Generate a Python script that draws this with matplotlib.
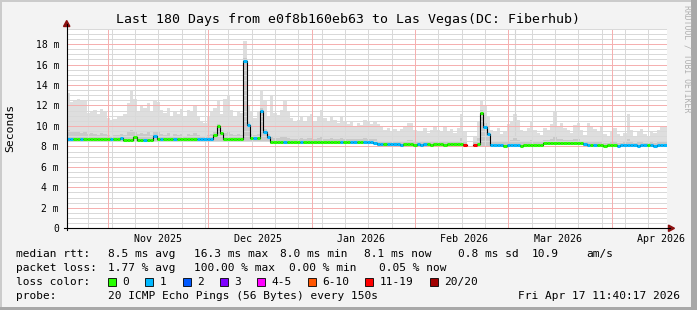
import datetime as dt
import numpy as np
import matplotlib
matplotlib.use('Agg')
import matplotlib.pyplot as plt
from matplotlib.lines import Line2D
from matplotlib.patches import Polygon, Rectangle

# ---- data (one value per day, ms) ----
start = dt.datetime(2025, 10, 19, 11, 40, 17)
n_days = 180

median = [
    8.72, 8.70, 8.72, 8.70, 8.70, 8.72, 8.70, 8.70, 8.68, 8.70,
    8.70, 8.72, 8.70, 8.70, 8.68, 8.70, 8.85, 8.65, 8.63, 8.62,
    8.95, 8.60, 8.60, 8.60, 8.62, 8.60, 9.05, 8.70, 8.70, 8.70,
    8.70, 8.72, 8.70, 8.70, 8.70, 8.70, 8.68, 8.70, 8.70, 8.72,
    8.70, 8.70, 8.70, 8.75, 9.10, 10.0, 9.30, 8.75, 8.75, 8.75,
    8.75, 8.75, 8.75, 16.3, 10.1, 8.85, 8.85, 8.85, 11.5, 9.40,
    8.95, 8.42, 8.40, 8.40, 8.40, 8.42, 8.40, 8.40, 8.40, 8.42,
    8.40, 8.40, 8.42, 8.40, 8.40, 8.40, 8.42, 8.40, 8.40, 8.40,
    8.40, 8.42, 8.40, 8.40, 8.40, 8.42, 8.45, 8.42, 8.40, 8.45,
    8.42, 8.40, 8.35, 8.22, 8.20, 8.20, 8.22, 8.20, 8.20, 8.20,
    8.18, 8.20, 8.22, 8.20, 8.18, 8.20, 8.15, 8.20, 8.20, 8.18,
    8.20, 8.20, 8.20, 8.18, 8.20, 8.20, 8.20, 8.20, 8.20, 8.15,
    np.nan, np.nan, 8.15, 8.20, 11.3, 9.90, 9.20, 8.10, 8.10, 8.10,
    8.10, 8.08, 8.10, 8.10, 8.12, 8.10, 8.08, 8.10, 8.10, 8.10,
    8.10, 8.10, 8.12, 8.35, 8.35, 8.35, 8.35, 8.35, 8.35, 8.35,
    8.35, 8.35, 8.35, 8.35, 8.30, 8.25, 8.15, 8.10, 8.10, 8.10,
    8.10, 8.08, 8.10, 8.10, 8.10, 8.08, 8.10, 8.10, 8.12, 8.10,
    8.10, 8.08, 8.10, 8.10, 8.10, 8.10, 8.08, 8.10, 8.10, 8.10,
]

smoke_top = [
    13.2, 12.3, 12.5, 12.6, 12.5, 12.5, 11.3, 11.5, 11.6, 11.2,
    11.7, 11.4, 10.8, 10.6, 10.7, 10.9, 11.0, 11.2, 12.2, 13.5,
    12.6, 11.5, 12.0, 11.8, 12.2, 11.5, 12.4, 12.3, 11.6, 11.3,
    11.8, 11.0, 11.4, 11.2, 11.7, 10.9, 11.6, 11.5, 11.9, 11.0,
    10.5, 10.3, 11.0, 11.5, 11.8, 12.4, 11.2, 12.6, 12.9, 11.6,
    10.9, 11.5, 11.3, 18.3, 12.0, 11.5, 10.8, 11.4, 13.5, 12.4,
    11.0, 13.0, 11.3, 11.1, 11.6, 12.4, 11.5, 10.8, 10.4, 10.6,
    10.9, 10.5, 10.9, 11.2, 10.4, 11.0, 11.6, 10.8, 10.5, 11.0,
    10.6, 10.3, 10.9, 10.5, 10.2, 10.5, 10.0, 10.3, 10.1, 10.6,
    10.4, 10.2, 10.4, 10.2, 9.9, 9.6, 9.8, 9.5, 9.7, 9.4,
    9.7, 9.9, 10.3, 10.3, 9.6, 9.4, 9.5, 9.8, 9.3, 9.6,
    9.9, 9.6, 9.4, 10.0, 9.5, 9.7, 9.3, 9.8, 11.2, 9.5,
    np.nan, np.nan, 9.0, 10.5, 12.5, 12.0, 11.0, 9.6, 9.4, 9.8,
    9.2, 9.5, 10.2, 10.4, 11.2, 10.6, 9.6, 9.4, 9.8, 10.4,
    9.6, 9.3, 9.1, 9.8, 9.6, 10.2, 11.4, 10.0, 10.3, 9.8,
    9.6, 9.3, 10.1, 10.3, 9.6, 9.1, 10.3, 10.0, 9.7, 9.4,
    10.0, 9.2, 9.0, 9.5, 9.8, 9.2, 9.0, 9.3, 11.2, 9.6,
    9.0, 9.4, 9.7, 9.2, 9.0, 9.5, 9.3, 9.6, 10.0, 10.0,
]

smoke_mid = [
    9.6, 9.4, 9.5, 9.4, 9.3, 9.4, 9.2, 9.3, 9.2, 9.1,
    9.3, 9.2, 9.1, 9.0, 9.1, 9.1, 9.2, 9.1, 9.4, 9.6,
    9.4, 9.2, 9.3, 9.2, 9.4, 9.1, 9.5, 9.4, 9.2, 9.1,
    9.3, 9.0, 9.2, 9.1, 9.2, 9.0, 9.2, 9.1, 9.3, 9.1,
    9.0, 8.9, 9.1, 9.2, 9.5, 10.2, 9.6, 9.3, 9.5, 9.2,
    9.1, 9.2, 9.1, 16.6, 10.4, 9.2, 9.1, 9.2, 11.8, 9.7,
    9.2, 8.9, 8.8, 8.8, 8.9, 8.9, 8.8, 8.7, 8.7, 8.7,
    8.8, 8.7, 8.8, 8.8, 8.7, 8.8, 8.9, 8.7, 8.7, 8.8,
    8.7, 8.7, 8.8, 8.7, 8.7, 8.7, 8.7, 8.7, 8.7, 8.8,
    8.7, 8.7, 8.7, 8.5, 8.5, 8.4, 8.5, 8.4, 8.5, 8.4,
    8.5, 8.5, 8.6, 8.6, 8.4, 8.4, 8.4, 8.5, 8.4, 8.5,
    8.5, 8.4, 8.4, 8.5, 8.4, 8.5, 8.4, 8.5, 8.8, 8.5,
    np.nan, np.nan, 8.4, 8.8, 11.6, 10.3, 9.5, 8.4, 8.4, 8.5,
    8.4, 8.4, 8.5, 8.6, 8.8, 8.6, 8.4, 8.4, 8.5, 8.6,
    8.4, 8.4, 8.4, 8.6, 8.6, 8.7, 8.9, 8.7, 8.7, 8.6,
    8.6, 8.6, 8.7, 8.7, 8.5, 8.4, 8.5, 8.4, 8.4, 8.4,
    8.4, 8.3, 8.3, 8.4, 8.4, 8.3, 8.3, 8.4, 8.7, 8.4,
    8.3, 8.4, 8.4, 8.3, 8.3, 8.4, 8.3, 8.4, 8.5, 8.5,
]

# smoke floor, by stretches of days
low_levels = [8.5, 8.2, 8.02, np.nan, 7.95, 8.18, 7.95]
low_days = [61, 32, 27, 2, 21, 12, 25]

# pings lost (of 20) per day
loss = [
    1, 1, 0, 0, 1, 0, 0, 0, 0, 0,
    0, 0, 0, 1, 0, 0, 1, 0, 0, 0,
    0, 0, 0, 1, 0, 0, 1, 0, 1, 0,
    0, 0, 1, 0, 0, 0, 0, 0, 0, 1,
    1, 1, 1, 1, 0, 0, 0, 0, 0, 0,
    0, 0, 0, 1, 1, 0, 1, 0, 1, 1,
    1, 0, 0, 0, 0, 1, 0, 0, 0, 0,
    1, 0, 0, 0, 0, 0, 0, 0, 0, 0,
    0, 0, 1, 0, 0, 1, 1, 0, 0, 1,
    1, 1, 1, 1, 1, 0, 1, 1, 1, 1,
    1, 0, 0, 0, 0, 1, 1, 1, 0, 0,
    0, 0, 0, 0, 0, 0, 0, 0, 0, 12,
    20, 20, 12, 0, 0, 1, 1, 1, 1, 1,
    1, 0, 1, 1, 1, 1, 0, 0, 0, 0,
    0, 0, 0, 0, 0, 0, 0, 0, 0, 0,
    0, 0, 0, 0, 0, 1, 1, 0, 1, 0,
    0, 0, 0, 0, 0, 1, 1, 1, 1, 1,
    1, 1, 1, 1, 0, 1, 1, 1, 1, 1,
]

# single very tall smoke sample
spike_day = [134.4]
spike_top = [19.5]

loss_labels = ['0', '1', '2', '3', '4-5', '6-10', '11-19', '20/20']
loss_colors = ['#26ff00', '#00b8ff', '#0059ff', '#7e00ff',
               '#ff00ff', '#ff5500', '#ff0000', '#a10000']
loss_upper = [0, 1, 2, 3, 5, 10, 19, 20]

ytick_vals = [0, 2, 4, 6, 8, 10, 12, 14, 16, 18]
month_labels = ['Nov 2025', 'Dec 2025', 'Jan 2026', 'Feb 2026', 'Mar 2026', 'Apr 2026']

stats_rtt = ['8.5 ms avg', '16.3 ms max', '8.0 ms min', '8.1 ms now', '0.8 ms sd', '10.9', 'am/s']
stats_loss = ['1.77 % avg', '100.00 % max', '0.00 % min', '0.05 % now']

# ---- layout (pixels) ----
W, H = 697, 310
L, R, T, B = 66.7, 666.7, 28.7, 228.3
MONO = 'DejaVu Sans Mono'


def fx(x):
    return x / W


def fy(y):
    return 1 - y / H


def off(t):
    return (t - start).total_seconds() / 86400.0


fig = plt.figure(figsize=(W / 100, H / 100), dpi=100, facecolor='#f3f3f3')
ax = fig.add_axes([fx(L), fy(B), (R - L) / W, (B - T) / H])
ax.set_facecolor('white')
ax.set_xlim(0, n_days)
ax.set_ylim(0, 19.5)
for s in ax.spines.values():
    s.set_visible(False)

days = np.arange(n_days)
med = np.array(median, dtype=float)
top = np.array(smoke_top, dtype=float)
mid = np.array(smoke_mid, dtype=float)
low = np.repeat(low_levels, low_days)
ok = ~np.isnan(top)

# smoke
ax.bar(days[ok], (top - low)[ok], bottom=low[ok], width=1, align='edge',
       color='#dedede', linewidth=0, zorder=1)
ax.bar(days[ok], (mid - low)[ok], bottom=low[ok], width=1, align='edge',
       color='#c9c9c9', linewidth=0, zorder=1.1)
ax.vlines(spike_day, 9.0, spike_top, color='#d4d4d4', lw=0.8, zorder=1)

# grid (dotted, drawn above the smoke)
grid_kw = dict(lw=0.72, ls=(0, (1, 1)), antialiased=False)
for v in np.arange(0.5, 19.6, 0.5):
    if v % 2:
        ax.axhline(v, color='#d9d9d9', zorder=2, **grid_kw)
for v in ytick_vals[1:]:
    ax.axhline(v, color='#f5b0b0', zorder=2.1, **grid_kw)

sunday = dt.datetime(2025, 10, 26)
while sunday < start + dt.timedelta(days=n_days):
    ax.axvline(off(sunday), color='#d9d9d9', zorder=2, **grid_kw)
    sunday += dt.timedelta(days=7)

month_starts = [dt.datetime(2025, 11, 1), dt.datetime(2025, 12, 1), dt.datetime(2026, 1, 1),
                dt.datetime(2026, 2, 1), dt.datetime(2026, 3, 1), dt.datetime(2026, 4, 1)]
for m in month_starts:
    ax.axvline(off(m), color='#f5b0b0', zorder=2.1, **grid_kw)

# median line
ax.step(np.arange(n_days + 1), np.append(med, med[-1]), where='post',
        color='black', lw=0.8, zorder=3)
seg_colors = [loss_colors[next(i for i, u in enumerate(loss_upper) if n <= u)] for n in loss]
ax.hlines(med, days, days + 1, colors=seg_colors, lw=2.2, zorder=4)

# ticks
ax.set_yticks(ytick_vals)
ax.set_yticklabels(['0'] + ['%d m' % v for v in ytick_vals[1:]], family=MONO, fontsize=7)
mid_month = [off(m.replace(day=15) + dt.timedelta(hours=18)) for m in month_starts]
ax.set_xticks(mid_month)
ax.set_xticklabels(month_labels, family=MONO, fontsize=7.2)
ax.tick_params(axis='y', length=0, pad=5.5)
ax.tick_params(axis='x', length=0, pad=4.0)
for lab in ax.get_xticklabels():
    lab.set_clip_on(False)

# axes lines and arrows
fig.add_artist(Line2D([fx(L), fx(L)], [fy(B + 2), fy(24)], color='black', lw=0.8))
fig.add_artist(Line2D([fx(L - 3), fx(670)], [fy(B), fy(B)], color='black', lw=0.8))
fig.add_artist(Polygon([[fx(L), fy(20.5)], [fx(L - 3.2), fy(26.5)], [fx(L + 3.2), fy(26.5)]],
                       closed=True, color='#8b1010', transform=fig.transFigure))
fig.add_artist(Polygon([[fx(674.5), fy(B)], [fx(668.5), fy(B - 3.2)], [fx(668.5), fy(B + 3.2)]],
                       closed=True, color='#8b1010', transform=fig.transFigure))

# titles
fig.text(fx(347.5), fy(19), 'Last 180 Days from e0f8b160eb63 to Las Vegas(DC: Fiberhub)',
         family=MONO, fontsize=9.5, ha='center', va='center')
fig.text(fx(10), fy(128), 'Seconds', family=MONO, fontsize=8.2, rotation=90,
         ha='center', va='center')
fig.text(fx(687.5), fy(5), 'RRDTOOL / TOBI OETIKER', family=MONO, fontsize=5.9,
         rotation=270, ha='center', va='top', color='#b0b0b0')

# legend rows
fs = 8.0
rows = [254.3, 268.3, 282.3, 296.3]
fig.text(fx(16.4), fy(rows[0]), 'median rtt:', family=MONO, fontsize=fs, va='center')
for s, x in zip(stats_rtt, [107.6, 193.8, 279.6, 364.0, 458.0, 531.6, 586.7]):
    fig.text(fx(x), fy(rows[0]), s, family=MONO, fontsize=fs, va='center')
fig.text(fx(16.4), fy(rows[1]), 'packet loss:', family=MONO, fontsize=fs, va='center')
for s, x in zip(stats_loss, [107.6, 193.8, 289.0, 379.0]):
    fig.text(fx(x), fy(rows[1]), s, family=MONO, fontsize=fs, va='center')
fig.text(fx(16.4), fy(rows[2]), 'loss color:', family=MONO, fontsize=fs, va='center')
for lab, col, x in zip(loss_labels, loss_colors, [108, 145.3, 182.7, 220, 256.9, 307.6, 365.3, 429.8]):
    fig.add_artist(Rectangle((fx(x), fy(rows[2] + 4)), 8 / W, 8 / H, facecolor=col,
                             edgecolor='black', lw=0.6, transform=fig.transFigure))
    fig.text(fx(x + 14.7), fy(rows[2]), lab, family=MONO, fontsize=fs, va='center')
fig.text(fx(16.4), fy(rows[3]), 'probe:', family=MONO, fontsize=fs, va='center')
fig.text(fx(107.6), fy(rows[3]), '20 ICMP Echo Pings (56 Bytes) every 150s',
         family=MONO, fontsize=fs, va='center')
fig.text(fx(680.5), fy(rows[3]), 'Fri Apr 17 11:40:17 2026', family=MONO, fontsize=fs,
         va='center', ha='right')

# 3d frame
fig.add_artist(Rectangle((0, 0), 2 / W, 1, color='#cbcbcb', transform=fig.transFigure, lw=0))
fig.add_artist(Rectangle((0, 1 - 2 / H), 1, 2 / H, color='#cbcbcb', transform=fig.transFigure, lw=0))
fig.add_artist(Rectangle((1 - 6 / W, 0), 6 / W, 1, color='#a8a8a8', transform=fig.transFigure, lw=0))
fig.add_artist(Rectangle((0, 0), 1, 3 / H, color='#a8a8a8', transform=fig.transFigure, lw=0))

fig.savefig('out.png', dpi=100, facecolor=fig.get_facecolor())
